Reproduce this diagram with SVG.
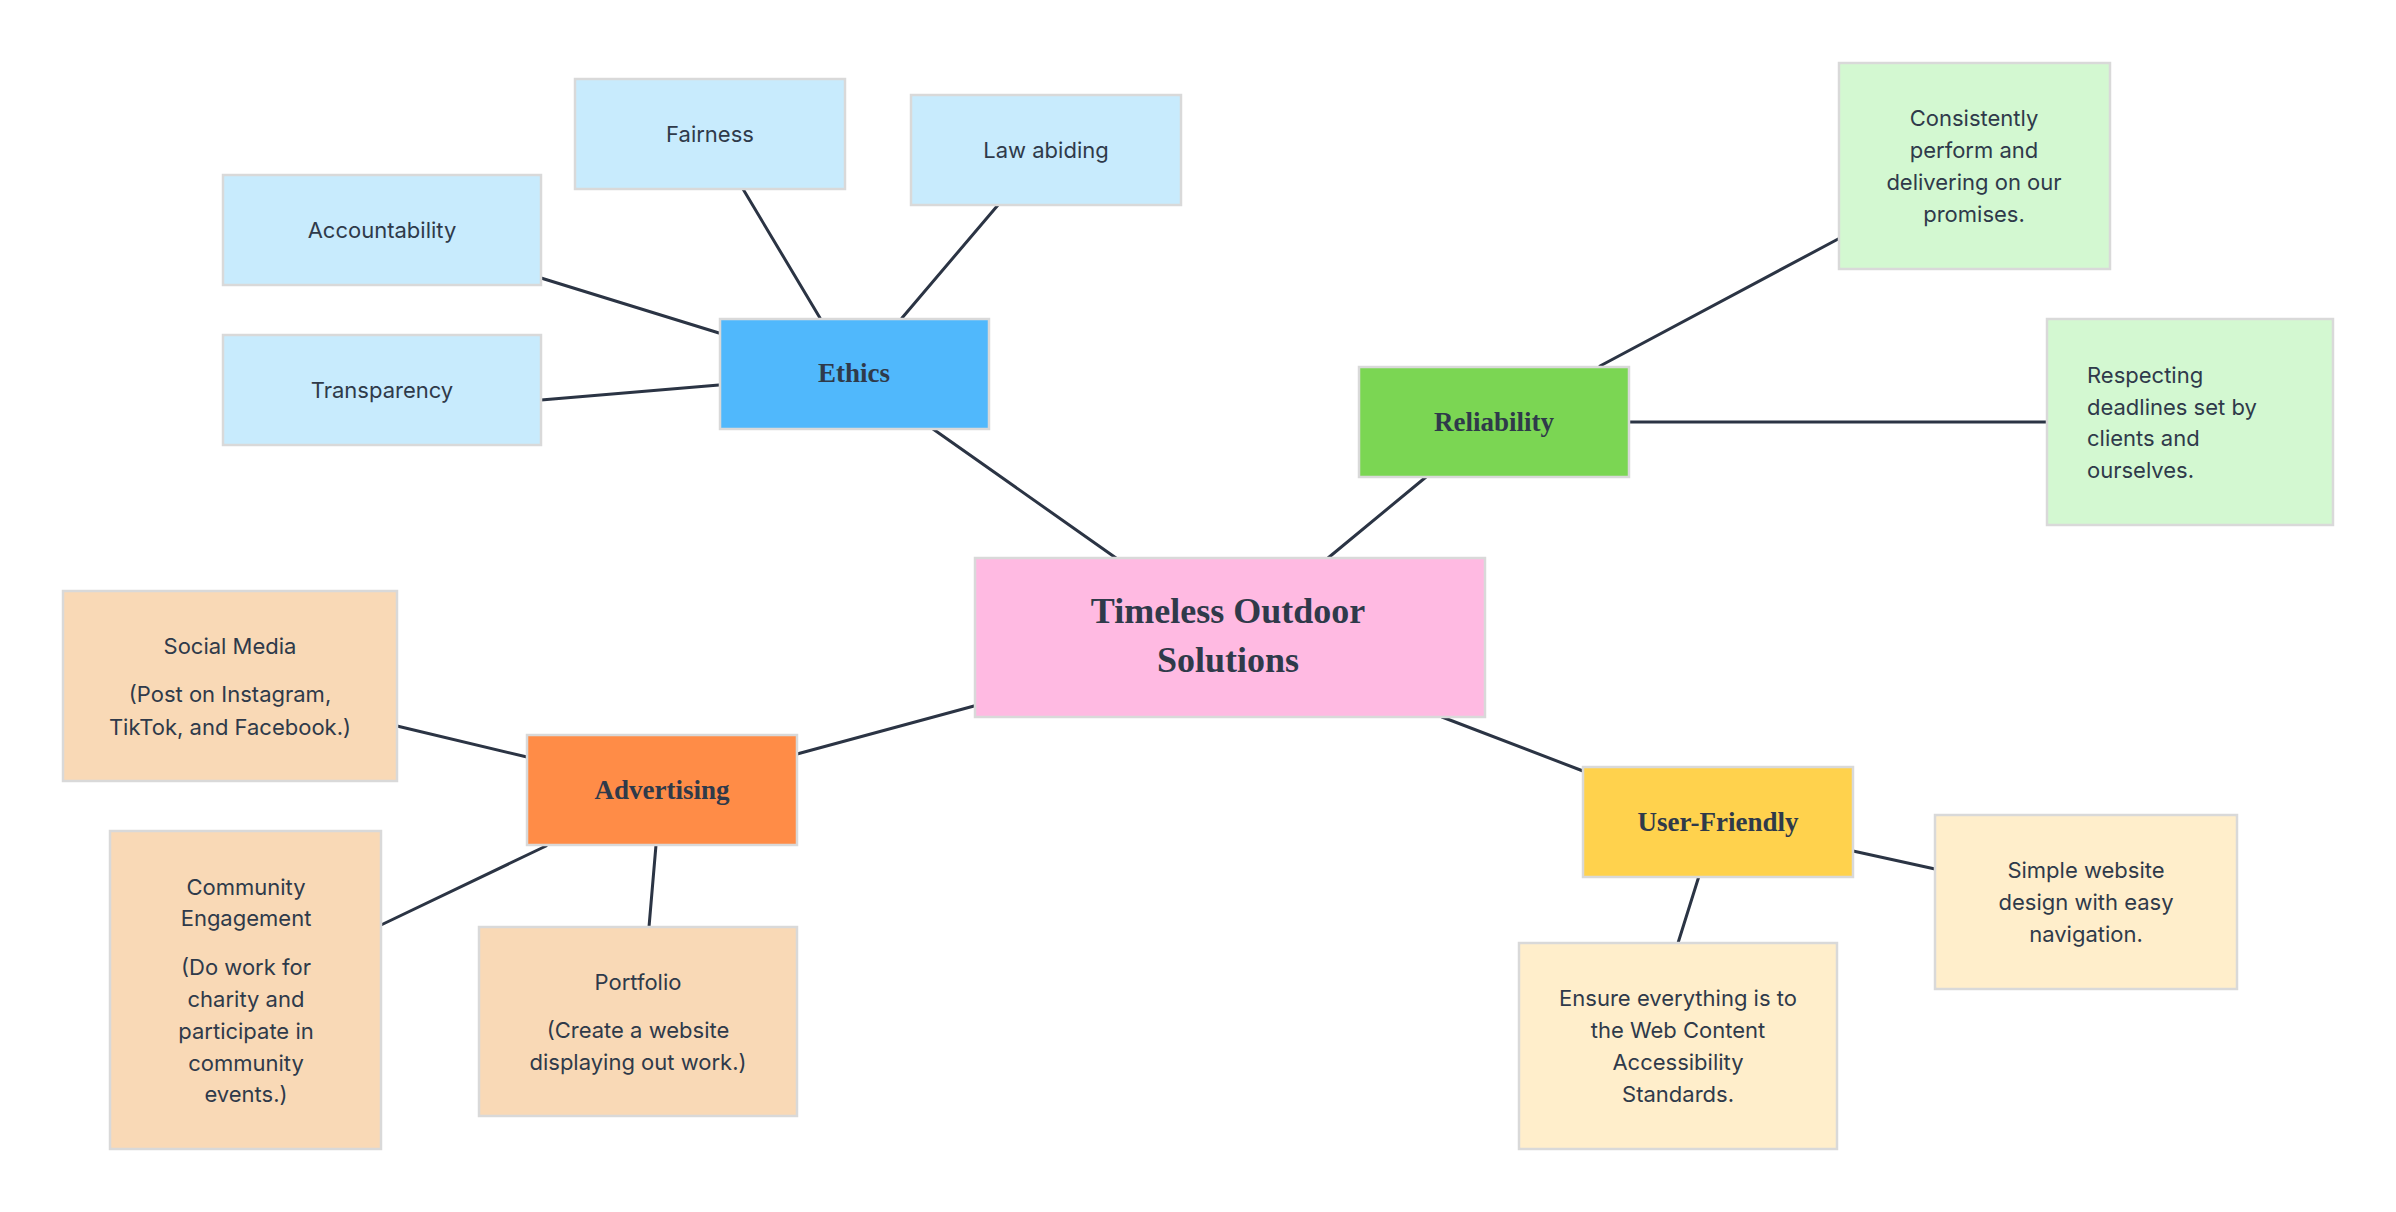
<svg xmlns="http://www.w3.org/2000/svg" width="2396" height="1212" viewBox="0 0 2396 1212">
<style>
.b{stroke:#d9d9d9;stroke-width:2.5}
.t{font-family:Inter,"Noto Sans",sans-serif;font-size:22px;fill:#2f3a4a;text-anchor:middle}
.l{text-anchor:start}
.h{font-family:"Liberation Serif",serif;font-weight:bold;font-size:27px;fill:#2f3a4a;text-anchor:middle}
.c{font-size:36px}
.lb{fill:#c8ebfd}.eb{fill:#50b8fc}.gr{fill:#7bd653}.lg{fill:#d3f8d1}.or{fill:#ff8c47}.pe{fill:#f9d9b6}.ye{fill:#ffd24d}.ly{fill:#ffeecb}.pk{fill:#ffbae2}
#connectors line{stroke:#2b3444;stroke-width:3;stroke-linecap:round}
</style>
<rect width="2396" height="1212" fill="#ffffff"/>
<g id="connectors">
<line x1="541" y1="278" x2="719" y2="333"/>
<line x1="541" y1="400" x2="719" y2="385"/>
<line x1="743" y1="189" x2="820" y2="318"/>
<line x1="998" y1="205" x2="902" y2="318"/>
<line x1="933" y1="429" x2="1116" y2="558"/>
<line x1="1600" y1="366" x2="1840" y2="238"/>
<line x1="1629" y1="422" x2="2047" y2="422"/>
<line x1="1426" y1="477" x2="1328" y2="558"/>
<line x1="397" y1="726" x2="527" y2="757"/>
<line x1="381" y1="925" x2="546" y2="846"/>
<line x1="649" y1="927" x2="656" y2="845"/>
<line x1="797" y1="754" x2="974" y2="706"/>
<line x1="1442" y1="717" x2="1583" y2="771"/>
<line x1="1853" y1="851" x2="1935" y2="869"/>
<line x1="1699" y1="876" x2="1678" y2="943"/>
</g>
<g id="center"><rect class="b pk" x="975" y="558" width="510" height="159"/><text class="h c" x="1228" y="623">Timeless Outdoor</text><text class="h c" x="1228" y="672">Solutions</text></g>
<g id="ethics"><rect class="b eb" x="720" y="319" width="269" height="110"/><text class="h" x="854" y="382">Ethics</text></g>
<g id="accountability"><rect class="b lb" x="223" y="175" width="318" height="110"/><text class="t" x="382" y="238">Accountability</text></g>
<g id="transparency"><rect class="b lb" x="223" y="335" width="318" height="110"/><text class="t" x="382" y="398">Transparency</text></g>
<g id="fairness"><rect class="b lb" x="575" y="79" width="270" height="110"/><text class="t" x="710" y="142">Fairness</text></g>
<g id="law"><rect class="b lb" x="911" y="95" width="270" height="110"/><text class="t" x="1046" y="158">Law abiding</text></g>
<g id="reliability"><rect class="b gr" x="1359" y="367" width="270" height="110"/><text class="h" x="1494" y="431">Reliability</text></g>
<g id="consistently"><rect class="b lg" x="1839" y="63" width="271" height="206"/><text class="t" x="1974"><tspan x="1974" y="126">Consistently</tspan><tspan x="1974" y="158">perform and</tspan><tspan x="1974" y="190">delivering on our</tspan><tspan x="1974" y="222">promises.</tspan></text></g>
<g id="respecting"><rect class="b lg" x="2047" y="319" width="286" height="206"/><text class="t l"><tspan x="2087" y="383">Respecting</tspan><tspan x="2087" y="415">deadlines set by</tspan><tspan x="2087" y="446">clients and</tspan><tspan x="2087" y="478">ourselves.</tspan></text></g>
<g id="advertising"><rect class="b or" x="527" y="735" width="270" height="110"/><text class="h" x="662" y="799">Advertising</text></g>
<g id="social"><rect class="b pe" x="63" y="591" width="334" height="190"/><text class="t"><tspan x="230" y="654">Social Media</tspan><tspan x="230" y="702">(Post on Instagram,</tspan><tspan x="230" y="735">TikTok, and Facebook.)</tspan></text></g>
<g id="community"><rect class="b pe" x="110" y="831" width="271" height="318"/><text class="t"><tspan x="246" y="895">Community</tspan><tspan x="246" y="926">Engagement</tspan><tspan x="246" y="975">(Do work for</tspan><tspan x="246" y="1007">charity and</tspan><tspan x="246" y="1039">participate in</tspan><tspan x="246" y="1071">community</tspan><tspan x="246" y="1102">events.)</tspan></text></g>
<g id="portfolio"><rect class="b pe" x="479" y="927" width="318" height="189"/><text class="t"><tspan x="638" y="990">Portfolio</tspan><tspan x="638" y="1038">(Create a website</tspan><tspan x="638" y="1070">displaying out work.)</tspan></text></g>
<g id="userfriendly"><rect class="b ye" x="1583" y="767" width="270" height="110"/><text class="h" x="1718" y="831">User-Friendly</text></g>
<g id="simple"><rect class="b ly" x="1935" y="815" width="302" height="174"/><text class="t"><tspan x="2086" y="878">Simple website</tspan><tspan x="2086" y="910">design with easy</tspan><tspan x="2086" y="942">navigation.</tspan></text></g>
<g id="ensure"><rect class="b ly" x="1519" y="943" width="318" height="206"/><text class="t"><tspan x="1678" y="1006">Ensure everything is to</tspan><tspan x="1678" y="1038">the Web Content</tspan><tspan x="1678" y="1070">Accessibility</tspan><tspan x="1678" y="1102">Standards.</tspan></text></g>
</svg>
